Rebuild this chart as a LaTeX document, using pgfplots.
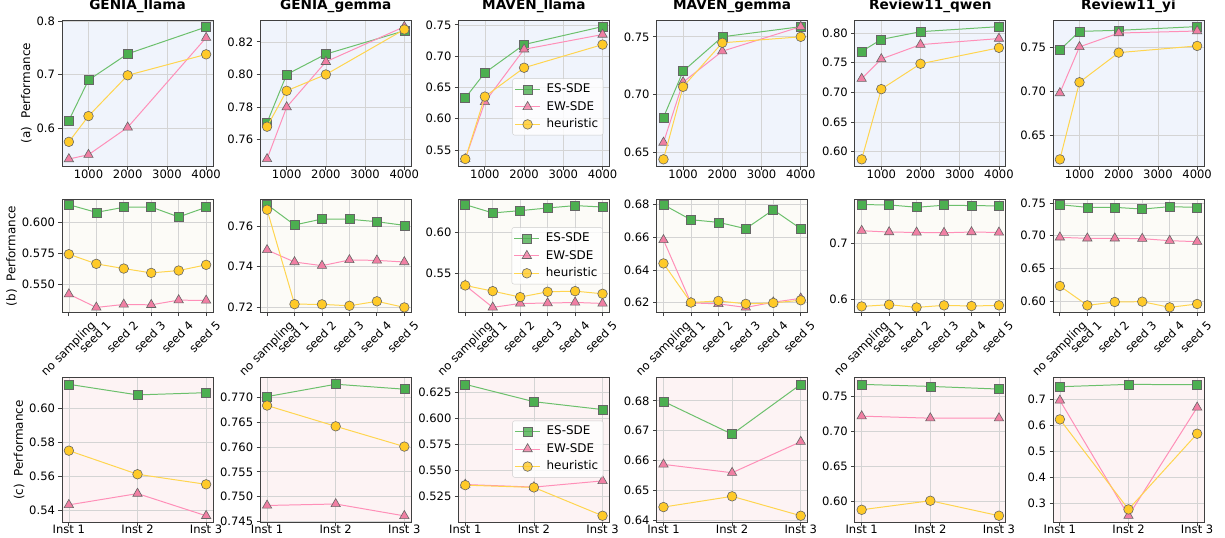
\documentclass[border=0pt]{standalone}
\usepackage{pgfplots}
\pgfplotsset{compat=1.18}
\usepackage{fontspec}
\setmainfont{DejaVu Sans}
\definecolor{bgA}{HTML}{F0F4FC}
\definecolor{bgB}{HTML}{FCFBF7}
\definecolor{bgC}{HTML}{FDF3F4}
\definecolor{gFill}{HTML}{4CAF50}
\definecolor{gLine}{HTML}{6CC06C}
\definecolor{pFill}{HTML}{F07FA3}
\definecolor{pLine}{HTML}{FF8FB8}
\definecolor{yFill}{HTML}{FFCA28}
\definecolor{yLine}{HTML}{FFD54F}
\pgfplotsset{
  base/.style={
    scale only axis, width=151bp, anchor=south west,
    tick align=outside, tick pos=left,
    xmajorgrids, ymajorgrids,
    grid style={line width=0.7pt, draw=black!17},
    axis line style={line width=0.8pt, draw=black!75},
    major tick style={line width=0.8pt, draw=black!75},
    major tick length=3.5bp,
    tick label style={font=\fontsize{11.6}{12}\selectfont},
    /pgf/number format/assume math mode=true,
    title style={font=\bfseries\fontsize{13.7}{14}\selectfont, yshift=-2.5bp},
    label style={font=\fontsize{12}{12}\selectfont},
    ylabel style={yshift=-2bp},
    scaled ticks=false, clip mode=individual,
    legend style={draw=black!20, rounded corners=2bp,
      fill=white, fill opacity=0.8, text opacity=1, inner sep=2bp,
      font=\fontsize{12}{12}\selectfont,
      nodes={font=\fontsize{12}{12}\selectfont, inner sep=3bp, text height=9bp, text depth=2.5bp},
      /tikz/every odd column/.append style={column sep=3bp}},
    legend cell align=left,
    legend image code/.code={\draw[mark repeat=2,mark phase=2] plot coordinates {(0bp,0bp) (12.5bp,0bp) (25bp,0bp)};},
  },
  rowA/.style={base, height=146bp, axis background/.style={fill=bgA},
    xmin=325, xmax=4175, xtick={1000,2000,3000,4000}, xticklabels={1000,2000,3000,4000},
    xticklabel style={yshift=3.5bp}},
  rowB/.style={base, height=113bp, axis background/.style={fill=bgB},
    xmin=-0.25, xmax=5.25, xtick={0,1,2,3,4,5},
    xticklabels={{\raisebox{-8.5bp}[\height][\depth]{no sampling\hspace{-8.5bp}}},seed 1,seed 2,seed 3,seed 4,seed 5},
    xticklabel style={xshift=9bp, yshift=1bp, rotate=45, anchor=north east}},
  rowC/.style={base, height=144.5bp, axis background/.style={fill=bgC},
    xmin=-0.1, xmax=2.1, xtick={0,1,2}, xticklabels={Inst 1,Inst 2,Inst 3},
    xticklabel style={yshift=4bp}},
  es/.style={gLine, line width=1pt, mark=square*, mark size=4.5bp,
    mark options={fill=gFill, draw=black!60, line width=0.6pt}},
  ew/.style={pLine, line width=1pt, mark=triangle*, mark size=5.4bp,
    mark options={fill=pFill, draw=black!60, line width=0.6pt}},
  he/.style={yLine, line width=1pt, mark=*, mark size=4.8bp,
    mark options={fill=yFill, draw=black!60, line width=0.6pt}},
}
\begin{document}
\begin{tikzpicture}
\useasboundingbox (0,0) rectangle (1225bp,-538bp);
% ---------------- Row (a) ----------------
\begin{axis}[rowA, at={(62bp,-166bp)}, title={GENIA\_llama}, ylabel={(a)\hspace{0.64em}Performance},
  ymin=0.530, ymax=0.802, ytick={0.6,0.7,0.8}, yticklabels={0.6,0.7,0.8}]
\addplot[es] coordinates {(500,0.615)(1000,0.690)(2000,0.739)(4000,0.789)};
\addplot[ew] coordinates {(500,0.543)(1000,0.551)(2000,0.602)(4000,0.769)};
\addplot[he] coordinates {(500,0.575)(1000,0.623)(2000,0.699)(4000,0.738)};
\end{axis}
\begin{axis}[rowA, at={(260.2bp,-166bp)}, title={GENIA\_gemma},
  ymin=0.7439, ymax=0.8334, ytick={0.76,0.78,0.80,0.82}, yticklabels={0.76,0.78,0.80,0.82}]
\addplot[es] coordinates {(500,0.7705)(1000,0.800)(2000,0.8125)(4000,0.8268)};
\addplot[ew] coordinates {(500,0.7482)(1000,0.780)(2000,0.8078)(4000,0.8293)};
\addplot[he] coordinates {(500,0.768)(1000,0.790)(2000,0.800)(4000,0.8276)};
\end{axis}
\begin{axis}[rowA, at={(458.4bp,-166bp)}, title={MAVEN\_llama},
  ymin=0.5245, ymax=0.7578, ytick={0.55,0.60,0.65,0.70,0.75}, yticklabels={0.55,0.60,0.65,0.70,0.75},
  legend style={at={(0.96,0.21)}, anchor=south east}]
\addplot[es] coordinates {(500,0.6332)(1000,0.6735)(2000,0.7186)(4000,0.7473)};
\addplot[ew] coordinates {(500,0.5357)(1000,0.6268)(2000,0.711)(4000,0.7346)};
\addplot[he] coordinates {(500,0.5357)(1000,0.6354)(2000,0.6815)(4000,0.7185)};
\legend{ES-SDE,EW-SDE,heuristic}
\end{axis}
\begin{axis}[rowA, at={(656.6bp,-166bp)}, title={MAVEN\_gemma},
  ymin=0.6378, ymax=0.7646, ytick={0.65,0.70,0.75}, yticklabels={0.65,0.70,0.75}]
\addplot[es] coordinates {(500,0.680)(1000,0.7201)(2000,0.750)(4000,0.7588)};
\addplot[ew] coordinates {(500,0.6582)(1000,0.7106)(2000,0.7375)(4000,0.7588)};
\addplot[he] coordinates {(500,0.6436)(1000,0.7066)(2000,0.7448)(4000,0.750)};
\end{axis}
\begin{axis}[rowA, at={(854.8bp,-166bp)}, title={Review11\_qwen},
  ymin=0.5758, ymax=0.822, ytick={0.60,0.65,0.70,0.75,0.80}, yticklabels={0.60,0.65,0.70,0.75,0.80}]
\addplot[es] coordinates {(500,0.769)(1000,0.7892)(2000,0.8023)(4000,0.8108)};
\addplot[ew] coordinates {(500,0.723)(1000,0.7562)(2000,0.7805)(4000,0.7907)};
\addplot[he] coordinates {(500,0.587)(1000,0.7054)(2000,0.7482)(4000,0.7751)};
\end{axis}
\begin{axis}[rowA, at={(1053bp,-166bp)}, title={Review11\_yi},
  ymin=0.6157, ymax=0.7813, ytick={0.65,0.70,0.75}, yticklabels={0.65,0.70,0.75}]
\addplot[es] coordinates {(500,0.7473)(1000,0.7684)(2000,0.7696)(4000,0.7738)};
\addplot[ew] coordinates {(500,0.6985)(1000,0.7508)(2000,0.7665)(4000,0.7688)};
\addplot[he] coordinates {(500,0.6232)(1000,0.7107)(2000,0.7443)(4000,0.7519)};
\end{axis}
% ---------------- Row (b) ----------------
\begin{axis}[rowB, at={(62bp,-312.5bp)}, ylabel={(b)\hspace{0.64em}Performance},
  ymin=0.5274, ymax=0.6187, ytick={0.550,0.575,0.600}, yticklabels={0.550,0.575,0.600}]
\addplot[es] coordinates {(0,0.6145)(1,0.6083)(2,0.6124)(3,0.6126)(4,0.6046)(5,0.6124)};
\addplot[ew] coordinates {(0,0.5422)(1,0.5315)(2,0.5339)(3,0.5336)(4,0.5374)(5,0.5371)};
\addplot[he] coordinates {(0,0.5745)(1,0.5667)(2,0.5629)(3,0.5594)(4,0.5613)(5,0.5659)};
\end{axis}
\begin{axis}[rowB, at={(260.2bp,-312.5bp)},
  ymin=0.7175, ymax=0.773, ytick={0.72,0.74,0.76}, yticklabels={0.72,0.74,0.76}]
\addplot[es] coordinates {(0,0.7705)(1,0.7605)(2,0.7634)(3,0.7633)(4,0.7621)(5,0.7603)};
\addplot[ew] coordinates {(0,0.7482)(1,0.7423)(2,0.7405)(3,0.7433)(4,0.7431)(5,0.7423)};
\addplot[he] coordinates {(0,0.768)(1,0.7216)(2,0.7215)(3,0.7208)(4,0.723)(5,0.720)};
\end{axis}
\begin{axis}[rowB, at={(458.4bp,-312.5bp)},
  ymin=0.5023, ymax=0.6393, ytick={0.55,0.60}, yticklabels={0.55,0.60},
  legend style={at={(0.955,0.25)}, anchor=south east}]
\addplot[es] coordinates {(0,0.6331)(1,0.623)(2,0.6258)(3,0.629)(4,0.6319)(5,0.6302)};
\addplot[ew] coordinates {(0,0.5351)(1,0.5085)(2,0.5133)(3,0.5137)(4,0.5145)(5,0.5133)};
\addplot[he] coordinates {(0,0.5351)(1,0.5282)(2,0.521)(3,0.5274)(4,0.5282)(5,0.525)};
\legend{ES-SDE,EW-SDE,heuristic}
\end{axis}
\begin{axis}[rowB, at={(656.6bp,-312.5bp)},
  ymin=0.6139, ymax=0.6832, ytick={0.62,0.64,0.66,0.68}, yticklabels={0.62,0.64,0.66,0.68}]
\addplot[es] coordinates {(0,0.680)(1,0.6708)(2,0.6692)(3,0.6653)(4,0.6769)(5,0.6653)};
\addplot[ew] coordinates {(0,0.6584)(1,0.6198)(2,0.6192)(3,0.617)(4,0.6202)(5,0.6226)};
\addplot[he] coordinates {(0,0.644)(1,0.620)(2,0.621)(3,0.6192)(4,0.6198)(5,0.6214)};
\end{axis}
\begin{axis}[rowB, at={(854.8bp,-312.5bp)},
  ymin=0.5772, ymax=0.7781, ytick={0.6,0.7}, yticklabels={0.6,0.7}]
\addplot[es] coordinates {(0,0.769)(1,0.7685)(2,0.7643)(3,0.7679)(4,0.7673)(5,0.7667)};
\addplot[ew] coordinates {(0,0.7226)(1,0.7202)(2,0.7196)(3,0.719)(4,0.7202)(5,0.7196)};
\addplot[he] coordinates {(0,0.588)(1,0.5911)(2,0.5863)(3,0.5899)(4,0.5887)(5,0.5899)};
\end{axis}
\begin{axis}[rowB, at={(1053bp,-312.5bp)},
  ymin=0.5824, ymax=0.7553, ytick={0.60,0.65,0.70,0.75}, yticklabels={0.60,0.65,0.70,0.75}]
\addplot[es] coordinates {(0,0.7474)(1,0.7433)(2,0.7433)(3,0.7407)(4,0.7443)(5,0.7433)};
\addplot[ew] coordinates {(0,0.6974)(1,0.6959)(2,0.6959)(3,0.6954)(4,0.6923)(5,0.6908)};
\addplot[he] coordinates {(0,0.623)(1,0.5933)(2,0.5985)(3,0.599)(4,0.5903)(5,0.5954)};
\end{axis}
% ---------------- Row (c) ----------------
\begin{axis}[rowC, at={(62bp,-522.3bp)}, ylabel={(c)\hspace{0.64em}Performance},
  ymin=0.5331, ymax=0.6176, ytick={0.54,0.56,0.58,0.60}, yticklabels={0.54,0.56,0.58,0.60}]
\addplot[es] coordinates {(0,0.6138)(1,0.6076)(2,0.6089)};
\addplot[ew] coordinates {(0,0.5433)(1,0.5499)(2,0.5369)};
\addplot[he] coordinates {(0,0.575)(1,0.5612)(2,0.5553)};
\end{axis}
\begin{axis}[rowC, at={(260.2bp,-522.3bp)},
  ymin=0.7448, ymax=0.774, ytick={0.745,0.750,0.755,0.760,0.765,0.770}, yticklabels={0.745,0.750,0.755,0.760,0.765,0.770}]
\addplot[es] coordinates {(0,0.7702)(1,0.7727)(2,0.7717)};
\addplot[ew] coordinates {(0,0.7482)(1,0.7485)(2,0.7461)};
\addplot[he] coordinates {(0,0.7684)(1,0.7642)(2,0.7601)};
\end{axis}
\begin{axis}[rowC, at={(458.4bp,-522.3bp)},
  ymin=0.5001, ymax=0.6393, ytick={0.500,0.525,0.550,0.575,0.600,0.625}, yticklabels={0.500,0.525,0.550,0.575,0.600,0.625},
  legend style={at={(0.96,0.31)}, anchor=south east}]
\addplot[es] coordinates {(0,0.633)(1,0.6163)(2,0.6087)};
\addplot[ew] coordinates {(0,0.5365)(1,0.534)(2,0.540)};
\addplot[he] coordinates {(0,0.5359)(1,0.5337)(2,0.5064)};
\legend{ES-SDE,EW-SDE,heuristic}
\end{axis}
\begin{axis}[rowC, at={(656.6bp,-522.3bp)},
  ymin=0.6393, ymax=0.6877, ytick={0.64,0.65,0.66,0.67,0.68}, yticklabels={0.64,0.65,0.66,0.67,0.68}]
\addplot[es] coordinates {(0,0.6798)(1,0.6688)(2,0.6855)};
\addplot[ew] coordinates {(0,0.6587)(1,0.6559)(2,0.6663)};
\addplot[he] coordinates {(0,0.6444)(1,0.648)(2,0.6415)};
\end{axis}
\begin{axis}[rowC, at={(854.8bp,-522.3bp)},
  ymin=0.5706, ymax=0.7771, ytick={0.60,0.65,0.70,0.75}, yticklabels={0.60,0.65,0.70,0.75}]
\addplot[es] coordinates {(0,0.7677)(1,0.7648)(2,0.761)};
\addplot[ew] coordinates {(0,0.7223)(1,0.7194)(2,0.7194)};
\addplot[he] coordinates {(0,0.5885)(1,0.6014)(2,0.58)};
\end{axis}
\begin{axis}[rowC, at={(1053bp,-522.3bp)},
  ymin=0.2273, ymax=0.783, ytick={0.3,0.4,0.5,0.6,0.7}, yticklabels={0.3,0.4,0.5,0.6,0.7}]
\addplot[es] coordinates {(0,0.7487)(1,0.7577)(2,0.7564)};
\addplot[ew] coordinates {(0,0.6962)(1,0.2526)(2,0.6692)};
\addplot[he] coordinates {(0,0.6231)(1,0.2769)(2,0.568)};
\end{axis}
\end{tikzpicture}
\end{document}
